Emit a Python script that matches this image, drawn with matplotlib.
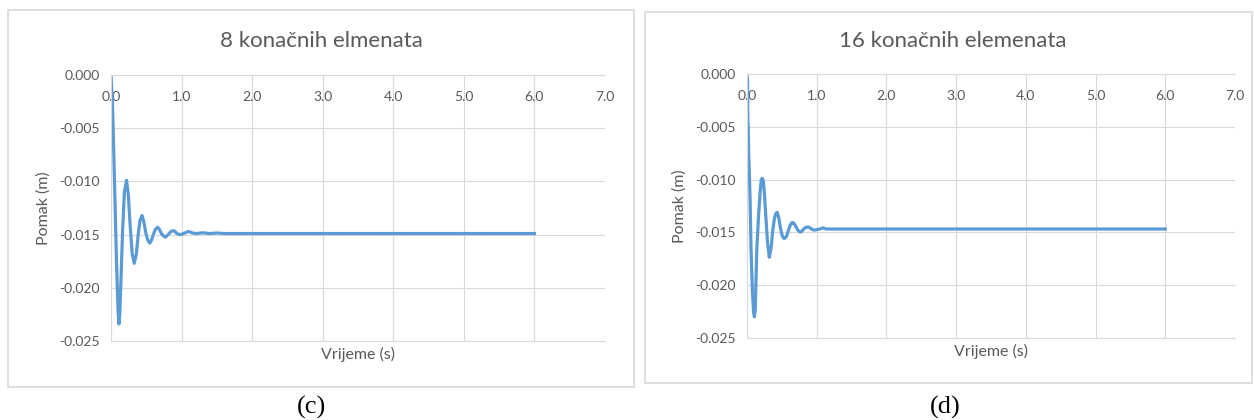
import matplotlib
matplotlib.use('Agg')
import matplotlib.pyplot as plt
from matplotlib.patches import Rectangle

# 8 finite elements
t8 = [0, 0.02, 0.04, 0.06, 0.08, 0.10, 0.113, 0.125, 0.14, 0.165, 0.19, 0.22,
      0.245, 0.27, 0.30, 0.33, 0.36, 0.385, 0.41, 0.44, 0.465, 0.495, 0.52, 0.55,
      0.575, 0.605, 0.63, 0.66, 0.685, 0.715, 0.74, 0.77, 0.795, 0.825, 0.85, 0.88,
      0.905, 0.935, 0.96, 0.99, 1.045, 1.1, 1.155, 1.21, 1.3, 1.4, 1.5, 1.6, 6.0]
u8 = [0, -0.0025, -0.0075, -0.0128, -0.0180, -0.0222, -0.0234, -0.0224, -0.0195,
      -0.0145, -0.0110, -0.0099, -0.0112, -0.0140, -0.0168, -0.0177, -0.0168, -0.0150,
      -0.0137, -0.0132, -0.0138, -0.0149, -0.0155, -0.0158, -0.0155, -0.0149, -0.0145,
      -0.0143, -0.0145, -0.0149, -0.0151, -0.01525, -0.0151, -0.0149, -0.0147, -0.01463,
      -0.0147, -0.0149, -0.01497, -0.0150, -0.01485, -0.0147, -0.01485, -0.0149,
      -0.01483, -0.0149, -0.01485, -0.0149, -0.0149]

# 16 finite elements
t16 = [0, 0.008, 0.012, 0.018, 0.025, 0.03, 0.045, 0.058, 0.077, 0.095, 0.106, 0.118,
       0.14, 0.165, 0.19, 0.205, 0.22, 0.235, 0.25, 0.27, 0.295, 0.32, 0.345, 0.37,
       0.395, 0.415, 0.433, 0.455, 0.48, 0.505, 0.525, 0.544, 0.565, 0.59, 0.615, 0.64,
       0.66, 0.68, 0.705, 0.73, 0.755, 0.775, 0.8, 0.825, 0.85, 0.87, 0.885, 0.91, 0.935,
       0.96, 0.98, 1.01, 1.04, 1.07, 1.1, 1.13, 1.2, 1.5, 3.0, 6.0]
u16 = [0, -0.0006, -0.0045, -0.0050, -0.0078, -0.0086, -0.0120, -0.0167, -0.0205,
       -0.0226, -0.0230, -0.0224, -0.0167, -0.0135, -0.0110, -0.0100, -0.00988, -0.0102,
       -0.0113, -0.0135, -0.0160, -0.01736, -0.0165, -0.0148, -0.0136, -0.0132, -0.0131,
       -0.0136, -0.0146, -0.0153, -0.01555, -0.01556, -0.0154, -0.0149, -0.0144, -0.0141,
       -0.01408, -0.0142, -0.0145, -0.0148, -0.01494, -0.01496, -0.0148, -0.0146,
       -0.01452, -0.01449, -0.0145, -0.0146, -0.01472, -0.01477, -0.01477, -0.01472,
       -0.0147, -0.0146, -0.01458, -0.01468, -0.01468, -0.01468, -0.01468, -0.01468]

titles = ['8 konačnih elmenata', '16 konačnih elemenata']
captions = ['(c)', '(d)']
x_ticks = [0, 1, 2, 3, 4, 5, 6, 7]
y_ticks = [0.000, -0.005, -0.010, -0.015, -0.020, -0.025]

W, H = 1254, 420
BLUE = '#5B9BD5'
GRID = '#D9D9D9'
TXT = '#595959'
FONT = 'Lato'

fig = plt.figure(figsize=(W / 100, H / 100), dpi=100)


def px_box(x0, y0, x1, y1):
    # pixel coords (top-left origin) -> figure fraction rect
    return [x0 / W, 1 - y1 / H, (x1 - x0) / W, (y1 - y0) / H]


def draw_chart(frame, plot, t, u, title, caption, cap_x, title_x):
    fx0, fy0, fx1, fy1 = frame
    fig.patches.append(Rectangle((fx0 / W, 1 - fy1 / H), (fx1 - fx0) / W, (fy1 - fy0) / H,
                                 transform=fig.transFigure, fill=False,
                                 edgecolor=GRID, linewidth=1.2))
    ax = fig.add_axes(px_box(*plot))
    ax.plot(t, u, color=BLUE, linewidth=2.3, solid_joinstyle='round')
    ax.set_xlim(0, 7)
    ax.set_ylim(-0.025, 0)
    ax.set_xticks(x_ticks)
    ax.set_xticklabels([f'{v:.1f}' for v in x_ticks])
    ax.set_yticks(y_ticks)
    ax.set_yticklabels([f'{v:.3f}' for v in y_ticks])
    ax.grid(True, color=GRID, linewidth=0.8)
    ax.set_axisbelow(True)
    for s in ax.spines.values():
        s.set_color(GRID)
        s.set_linewidth(0.8)
    ax.spines['right'].set_visible(False)
    ax.tick_params(axis='x', top=True, labeltop=True, bottom=False, labelbottom=False,
                   length=0, pad=-20, labelsize=10, labelcolor=TXT)
    ax.tick_params(axis='y', length=0, pad=8, labelsize=10, labelcolor=TXT)
    for lab in ax.get_xticklabels() + ax.get_yticklabels():
        lab.set_fontfamily(FONT)
    ax.set_ylabel('Pomak (m)', fontsize=11.5, color=TXT, family=FONT, labelpad=6)
    ax.set_xlabel('Vrijeme (s)', fontsize=11.5, color=TXT, family=FONT, labelpad=4)
    fig.text(title_x / W, 1 - 41 / H, title, ha='center', va='center',
             fontsize=16, color=TXT, family=FONT)
    fig.text(cap_x / W, 1 - 407 / H, caption, ha='center', va='center',
             fontsize=19, color='black', family='Liberation Serif')
    return ax


draw_chart((8, 10, 634, 387), (111, 75, 605, 341), t8, u8, titles[0], captions[0], 312, 321)
draw_chart((645, 12, 1252, 383), (747, 74, 1235, 338), t16, u16, titles[1], captions[1], 945, 953)

fig.savefig('out.png', dpi=100)
